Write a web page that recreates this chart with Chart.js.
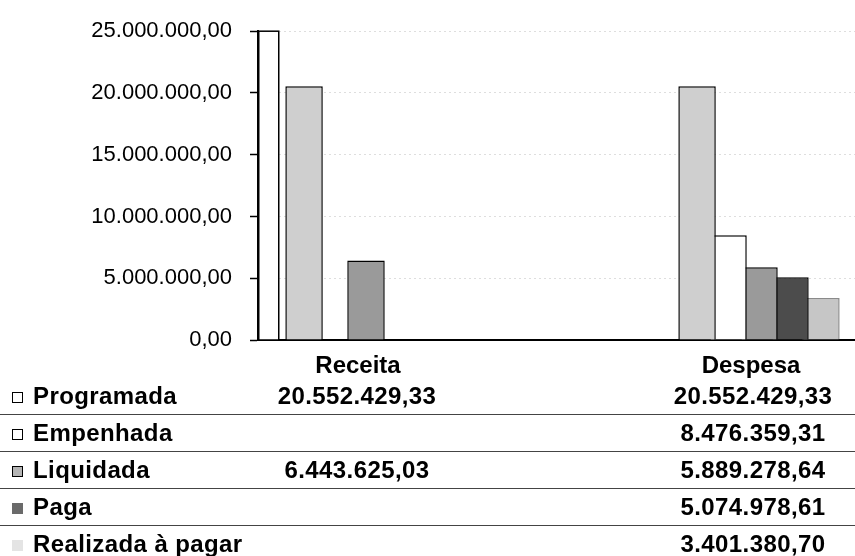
<!DOCTYPE html>
<html lang="pt">
<head>
<meta charset="UTF-8">
<title>Receita x Despesa</title>
<script src="https://cdn.jsdelivr.net/npm/chart.js"></script>
<style>
  body { margin: 0; background: #fff; }
  #wrap { position: relative; width: 855px; height: 556px; overflow: hidden; }
  #chart { position: absolute; left: 0; top: 0; }
  #tabela { position: absolute; left: 0; top: 378px; width: 855px; border-collapse: collapse;
            font: bold 24px 'Liberation Sans', Arial, sans-serif; color: #000; letter-spacing: 0.4px; }
  #tabela td { height: 36px; padding: 0; white-space: nowrap; }
  #tabela tr { border-bottom: 1.5px solid #444; }
  #tabela tr:last-child { border-bottom: none; }
  #tabela td.val { text-align: center; }
  .key { display: inline-block; width: 11px; height: 11px; margin: 0 10px 0 12px; vertical-align: 1px; box-sizing: border-box; }
</style>
</head>
<body>
<div id="wrap">
  <canvas id="chart" width="855" height="380"></canvas>
  <table id="tabela">
    <colgroup><col style="width:258px"><col style="width:198px"><col style="width:195px"><col style="width:204px"></colgroup>
    <tbody id="linhas"></tbody>
  </table>
</div>
<script>
const categorias = ['Receita', 'Despesa'];
const series = ['Programada', 'Empenhada', 'Liquidada', 'Paga', 'Realizada à pagar'];
const programada = [20552429.33, 20552429.33];
const empenhada = [null, 8476359.31];
const liquidada = [6443625.03, 5889278.64];
const paga = [null, 5074978.61];
const realizada = [null, 3401380.70];
const yTicks = [0, 5000000, 10000000, 15000000, 20000000, 25000000];

const valores = [programada, empenhada, liquidada, paga, realizada];
const corBarra = ['#cfcfcf', '#ffffff', '#9a9a9a', '#4c4c4c', '#c6c6c6'];
const bordaBarra = ['#000', '#000', '#000', '#000', '#8a8a8a'];
const corChave = ['#fff', '#fff', '#b4b4b4', '#6a6a6a', '#e4e4e4'];
const bordaChave = ['#000', '#000', '#000', 'transparent', 'transparent'];

// faixa do eixo x (indice da categoria), para casar com o recorte do original
const xMin = -0.2748, xMax = 1.2443;

function fmt(v) {
  const [i, d] = v.toFixed(2).split('.');
  return i.replace(/\B(?=(\d{3})+(?!\d))/g, '.') + ',' + d;
}

// caixa branca encostada no eixo (como no original)
const moldura = {
  id: 'moldura',
  beforeDatasetsDraw(chart) {
    const { ctx, chartArea, scales } = chart;
    const top = scales.y.getPixelForValue(yTicks[yTicks.length - 1]);
    ctx.save();
    ctx.fillStyle = '#fff';
    ctx.strokeStyle = '#000';
    ctx.lineWidth = 1.5;
    ctx.fillRect(chartArea.left, top, 21, chartArea.bottom - top);
    ctx.strokeRect(chartArea.left + 0.75, top, 20, chartArea.bottom - top);
    ctx.restore();
  }
};

new Chart(document.getElementById('chart'), {
  type: 'bar',
  data: {
    datasets: series.map((nome, s) => ({
      label: nome,
      data: categorias.map((c, i) => ({ x: i, y: valores[s][i] })),
      backgroundColor: corBarra[s],
      borderColor: bordaBarra[s],
      borderWidth: 1.5,
      categoryPercentage: 0.394,
      barPercentage: 1.21
    }))
  },
  options: {
    responsive: false,
    devicePixelRatio: 1,
    animation: false,
    layout: { padding: { top: 22, right: 0, bottom: 0, left: 0 } },
    plugins: { legend: { display: false }, tooltip: { enabled: false } },
    scales: {
      x: {
        type: 'linear',
        offset: false,
        min: xMin,
        max: xMax,
        afterBuildTicks: s => { s.ticks = categorias.map((c, i) => ({ value: i })); },
        afterFit: s => { s.height = 40; },
        grid: { display: false, offset: false },
        border: { color: '#000', width: 2 },
        ticks: {
          padding: 4,
          labelOffset: -8,
          color: '#000',
          font: { family: "'Liberation Sans', Arial", size: 24, weight: 'bold' },
          callback: v => categorias[v]
        }
      },
      y: {
        min: 0,
        max: 25000000,
        afterBuildTicks: s => { s.ticks = yTicks.map(v => ({ value: v })); },
        afterFit: s => { s.width = 258; },
        grid: { color: '#dedede', tickColor: '#000', tickLength: 8, tickWidth: 1.5, tickBorderDash: [] },
        border: { color: '#000', width: 2, dash: [2, 3] },
        ticks: {
          padding: 18,
          color: '#000',
          font: { family: "'Liberation Sans', Arial", size: 22 },
          callback: v => fmt(v)
        }
      }
    }
  },
  plugins: [moldura]
});

const linhas = document.getElementById('linhas');
series.forEach((nome, s) => {
  const tr = document.createElement('tr');
  const td0 = document.createElement('td');
  const key = document.createElement('span');
  key.className = 'key';
  key.style.background = corChave[s];
  key.style.border = '1.5px solid ' + bordaChave[s];
  td0.appendChild(key);
  td0.appendChild(document.createTextNode(nome));
  tr.appendChild(td0);
  const cols = [valores[s][0], null, valores[s][1]];
  cols.forEach((v, k) => {
    const td = document.createElement('td');
    if (k !== 1) td.className = 'val';
    td.textContent = v == null ? '' : fmt(v);
    tr.appendChild(td);
  });
  linhas.appendChild(tr);
});
</script>
</body>
</html>
